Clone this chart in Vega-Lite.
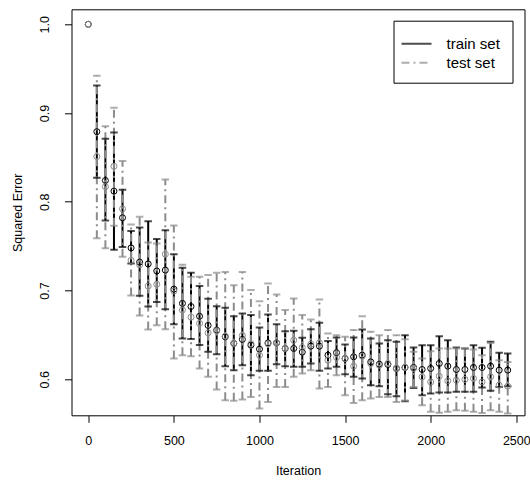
{
  "$schema": "https://vega.github.io/schema/vega-lite/v6.json",
  "width": 453,
  "height": 406,
  "autosize": "none",
  "padding": {"left": 71.5, "top": 9.3, "right": 5.5, "bottom": 64.7},
  "background": "white",
  "config": {
    "font": "Liberation Sans",
    "view": {"stroke": "black", "strokeWidth": 1},
    "axis": {
      "domain": false, "grid": false, "tickColor": "black", "tickSize": 7, "tickWidth": 1,
      "labelColor": "black", "labelFontSize": 12.5, "labelFont": "Liberation Sans",
      "titleFontSize": 12.5, "titleFontWeight": "normal", "titleColor": "black", "titleFont": "Liberation Sans"
    }
  },
  "datasets": {
    "err": [
      {"it": 0, "set": "train set", "m": 1.0, "lo": null, "hi": null},
      {"it": 50, "set": "train set", "m": 0.879, "lo": 0.827, "hi": 0.931},
      {"it": 100, "set": "train set", "m": 0.824, "lo": 0.779, "hi": 0.871},
      {"it": 150, "set": "train set", "m": 0.812, "lo": 0.746, "hi": 0.878},
      {"it": 200, "set": "train set", "m": 0.782, "lo": 0.749, "hi": 0.8135},
      {"it": 250, "set": "train set", "m": 0.748, "lo": 0.7305, "hi": 0.767},
      {"it": 300, "set": "train set", "m": 0.732, "lo": 0.694, "hi": 0.771},
      {"it": 350, "set": "train set", "m": 0.730, "lo": 0.682, "hi": 0.778},
      {"it": 400, "set": "train set", "m": 0.722, "lo": 0.687, "hi": 0.758},
      {"it": 450, "set": "train set", "m": 0.723, "lo": 0.679, "hi": 0.768},
      {"it": 500, "set": "train set", "m": 0.7016, "lo": 0.662, "hi": 0.741},
      {"it": 550, "set": "train set", "m": 0.6855, "lo": 0.646, "hi": 0.7256},
      {"it": 600, "set": "train set", "m": 0.682, "lo": 0.6455, "hi": 0.72},
      {"it": 650, "set": "train set", "m": 0.671, "lo": 0.6385, "hi": 0.705},
      {"it": 700, "set": "train set", "m": 0.6607, "lo": 0.631, "hi": 0.6907},
      {"it": 750, "set": "train set", "m": 0.6553, "lo": 0.6283, "hi": 0.6824},
      {"it": 800, "set": "train set", "m": 0.6478, "lo": 0.6147, "hi": 0.6805},
      {"it": 850, "set": "train set", "m": 0.6404, "lo": 0.6103, "hi": 0.6711},
      {"it": 900, "set": "train set", "m": 0.6449, "lo": 0.6159, "hi": 0.674},
      {"it": 950, "set": "train set", "m": 0.6384, "lo": 0.6046, "hi": 0.6723},
      {"it": 1000, "set": "train set", "m": 0.634, "lo": 0.6095, "hi": 0.6584},
      {"it": 1050, "set": "train set", "m": 0.641, "lo": 0.6095, "hi": 0.673},
      {"it": 1100, "set": "train set", "m": 0.641, "lo": 0.617, "hi": 0.6621},
      {"it": 1150, "set": "train set", "m": 0.6347, "lo": 0.6148, "hi": 0.6542},
      {"it": 1200, "set": "train set", "m": 0.6347, "lo": 0.614, "hi": 0.6546},
      {"it": 1250, "set": "train set", "m": 0.6306, "lo": 0.614, "hi": 0.6467},
      {"it": 1300, "set": "train set", "m": 0.6373, "lo": 0.6178, "hi": 0.6565},
      {"it": 1350, "set": "train set", "m": 0.6373, "lo": 0.6095, "hi": 0.6636},
      {"it": 1400, "set": "train set", "m": 0.6272, "lo": 0.6122, "hi": 0.643},
      {"it": 1450, "set": "train set", "m": 0.630, "lo": 0.614, "hi": 0.647},
      {"it": 1500, "set": "train set", "m": 0.6234, "lo": 0.6057, "hi": 0.6392},
      {"it": 1550, "set": "train set", "m": 0.6253, "lo": 0.6027, "hi": 0.647},
      {"it": 1600, "set": "train set", "m": 0.6272, "lo": 0.601, "hi": 0.6562},
      {"it": 1650, "set": "train set", "m": 0.6196, "lo": 0.5933, "hi": 0.646},
      {"it": 1700, "set": "train set", "m": 0.617, "lo": 0.5922, "hi": 0.6404},
      {"it": 1750, "set": "train set", "m": 0.6167, "lo": 0.5832, "hi": 0.644},
      {"it": 1800, "set": "train set", "m": 0.6122, "lo": 0.581, "hi": 0.6422},
      {"it": 1850, "set": "train set", "m": 0.6133, "lo": 0.5753, "hi": 0.6497},
      {"it": 1900, "set": "train set", "m": 0.6133, "lo": 0.5903, "hi": 0.6358},
      {"it": 1950, "set": "train set", "m": 0.611, "lo": 0.582, "hi": 0.6384},
      {"it": 2000, "set": "train set", "m": 0.6122, "lo": 0.584, "hi": 0.6384},
      {"it": 2050, "set": "train set", "m": 0.6178, "lo": 0.585, "hi": 0.6486},
      {"it": 2100, "set": "train set", "m": 0.6148, "lo": 0.5851, "hi": 0.644},
      {"it": 2150, "set": "train set", "m": 0.611, "lo": 0.5858, "hi": 0.6358},
      {"it": 2200, "set": "train set", "m": 0.611, "lo": 0.5858, "hi": 0.6347},
      {"it": 2250, "set": "train set", "m": 0.6133, "lo": 0.5858, "hi": 0.6384},
      {"it": 2300, "set": "train set", "m": 0.6133, "lo": 0.5907, "hi": 0.6354},
      {"it": 2350, "set": "train set", "m": 0.6148, "lo": 0.587, "hi": 0.6422},
      {"it": 2400, "set": "train set", "m": 0.6103, "lo": 0.5914, "hi": 0.6298},
      {"it": 2450, "set": "train set", "m": 0.6103, "lo": 0.5922, "hi": 0.6291},
      {"it": 0, "set": "test set", "m": 1.0, "lo": null, "hi": null},
      {"it": 50, "set": "test set", "m": 0.851, "lo": 0.759, "hi": 0.942},
      {"it": 100, "set": "test set", "m": 0.817, "lo": 0.7475, "hi": 0.885},
      {"it": 150, "set": "test set", "m": 0.840, "lo": 0.773, "hi": 0.906},
      {"it": 200, "set": "test set", "m": 0.792, "lo": 0.738, "hi": 0.846},
      {"it": 250, "set": "test set", "m": 0.734, "lo": 0.6945, "hi": 0.7745},
      {"it": 300, "set": "test set", "m": 0.729, "lo": 0.672, "hi": 0.783},
      {"it": 350, "set": "test set", "m": 0.705, "lo": 0.656, "hi": 0.754},
      {"it": 400, "set": "test set", "m": 0.707, "lo": 0.661, "hi": 0.753},
      {"it": 450, "set": "test set", "m": 0.741, "lo": 0.6565, "hi": 0.825},
      {"it": 500, "set": "test set", "m": 0.6994, "lo": 0.6234, "hi": 0.7734},
      {"it": 550, "set": "test set", "m": 0.678, "lo": 0.627, "hi": 0.729},
      {"it": 600, "set": "test set", "m": 0.670, "lo": 0.626, "hi": 0.7155},
      {"it": 650, "set": "test set", "m": 0.663, "lo": 0.612, "hi": 0.7155},
      {"it": 700, "set": "test set", "m": 0.6523, "lo": 0.6027, "hi": 0.7174},
      {"it": 750, "set": "test set", "m": 0.6546, "lo": 0.5885, "hi": 0.72},
      {"it": 800, "set": "test set", "m": 0.6486, "lo": 0.5764, "hi": 0.721},
      {"it": 850, "set": "test set", "m": 0.6404, "lo": 0.5757, "hi": 0.706},
      {"it": 900, "set": "test set", "m": 0.6494, "lo": 0.5773, "hi": 0.721},
      {"it": 950, "set": "test set", "m": 0.640, "lo": 0.580, "hi": 0.7005},
      {"it": 1000, "set": "test set", "m": 0.6272, "lo": 0.567, "hi": 0.688},
      {"it": 1050, "set": "test set", "m": 0.640, "lo": 0.5745, "hi": 0.708},
      {"it": 1100, "set": "test set", "m": 0.641, "lo": 0.5914, "hi": 0.6956},
      {"it": 1150, "set": "test set", "m": 0.6347, "lo": 0.5914, "hi": 0.678},
      {"it": 1200, "set": "test set", "m": 0.644, "lo": 0.6027, "hi": 0.691},
      {"it": 1250, "set": "test set", "m": 0.6358, "lo": 0.6065, "hi": 0.6723},
      {"it": 1300, "set": "test set", "m": 0.6396, "lo": 0.6103, "hi": 0.6674},
      {"it": 1350, "set": "test set", "m": 0.641, "lo": 0.5897, "hi": 0.69},
      {"it": 1400, "set": "test set", "m": 0.6215, "lo": 0.5914, "hi": 0.6516},
      {"it": 1450, "set": "test set", "m": 0.6246, "lo": 0.6046, "hi": 0.6497},
      {"it": 1500, "set": "test set", "m": 0.6234, "lo": 0.582, "hi": 0.6478},
      {"it": 1550, "set": "test set", "m": 0.6148, "lo": 0.5734, "hi": 0.6554},
      {"it": 1600, "set": "test set", "m": 0.626, "lo": 0.5764, "hi": 0.6711},
      {"it": 1650, "set": "test set", "m": 0.6178, "lo": 0.5783, "hi": 0.6535},
      {"it": 1700, "set": "test set", "m": 0.6159, "lo": 0.580, "hi": 0.6497},
      {"it": 1750, "set": "test set", "m": 0.6178, "lo": 0.580, "hi": 0.6554},
      {"it": 1800, "set": "test set", "m": 0.6122, "lo": 0.5745, "hi": 0.6497},
      {"it": 1850, "set": "test set", "m": 0.6133, "lo": 0.576, "hi": 0.645},
      {"it": 1900, "set": "test set", "m": 0.6122, "lo": 0.5914, "hi": 0.631},
      {"it": 1950, "set": "test set", "m": 0.6027, "lo": 0.5708, "hi": 0.6234},
      {"it": 2000, "set": "test set", "m": 0.597, "lo": 0.5633, "hi": 0.6316},
      {"it": 2050, "set": "test set", "m": 0.6035, "lo": 0.5622, "hi": 0.6347},
      {"it": 2100, "set": "test set", "m": 0.5982, "lo": 0.5633, "hi": 0.6347},
      {"it": 2150, "set": "test set", "m": 0.599, "lo": 0.5652, "hi": 0.6347},
      {"it": 2200, "set": "test set", "m": 0.5998, "lo": 0.5644, "hi": 0.6347},
      {"it": 2250, "set": "test set", "m": 0.6009, "lo": 0.5633, "hi": 0.6336},
      {"it": 2300, "set": "test set", "m": 0.597, "lo": 0.5621, "hi": 0.6272},
      {"it": 2350, "set": "test set", "m": 0.6027, "lo": 0.5652, "hi": 0.641},
      {"it": 2400, "set": "test set", "m": 0.5933, "lo": 0.5633, "hi": 0.6215},
      {"it": 2450, "set": "test set", "m": 0.5922, "lo": 0.5614, "hi": 0.6196}
    ]
  },
  "data": {"name": "err"},
  "encoding": {
    "x": {
      "field": "it", "type": "quantitative",
      "scale": {"domain": [-98, 2548], "nice": false, "zero": false},
      "axis": {"values": [0, 500, 1000, 1500, 2000, 2500], "format": "d", "labelPadding": 12, "title": "Iteration", "titlePadding": 18}
    },
    "color": {
      "field": "set", "type": "nominal",
      "scale": {"domain": ["train set", "test set"], "range": ["#000000", "#8c8c8c"]},
      "legend": {
        "title": null, "orient": "none", "legendX": 322, "legendY": 11.4,
        "symbolType": "M-1.5,0H1.5", "symbolSize": 400, "symbolStrokeWidth": 2,
        "labelFontSize": 15, "labelFont": "Liberation Sans", "labelColor": "black", "labelOffset": 19,
        "padding": 12, "rowPadding": 0,
        "strokeColor": "black", "fillColor": "white"
      }
    }
  },
  "layer": [
    {
      "transform": [{"filter": "datum.lo != null"}],
      "mark": {"type": "rule", "strokeWidth": 2, "clip": true},
      "encoding": {
        "y": {
          "field": "lo", "type": "quantitative",
          "scale": {"domain": [0.5594, 1.0169], "nice": false, "zero": false},
          "axis": {"values": [0.6, 0.7, 0.8, 0.9, 1.0], "format": ".1f", "labelAngle": -90, "labelAlign": "center", "labelBaseline": "bottom", "labelPadding": 13, "title": "Squared Error", "titlePadding": 14}
        },
        "y2": {"field": "hi"},
        "strokeDash": {
          "field": "set", "type": "nominal",
          "scale": {"domain": ["train set", "test set"], "range": [[1, 0], [8, 4, 2, 4]]}
        }
      }
    },
    {
      "transform": [{"filter": "datum.lo != null"}],
      "mark": {"type": "tick", "orient": "horizontal", "size": 7.5, "thickness": 2, "clip": true},
      "encoding": {"y": {"field": "lo", "type": "quantitative"}}
    },
    {
      "transform": [{"filter": "datum.lo != null"}],
      "mark": {"type": "tick", "orient": "horizontal", "size": 7.5, "thickness": 2, "clip": true},
      "encoding": {"y": {"field": "hi", "type": "quantitative"}}
    },
    {
      "mark": {"type": "point", "shape": "circle", "filled": false, "size": 36, "strokeWidth": 1, "opacity": 1},
      "encoding": {"y": {"field": "m", "type": "quantitative"}}
    }
  ]
}
